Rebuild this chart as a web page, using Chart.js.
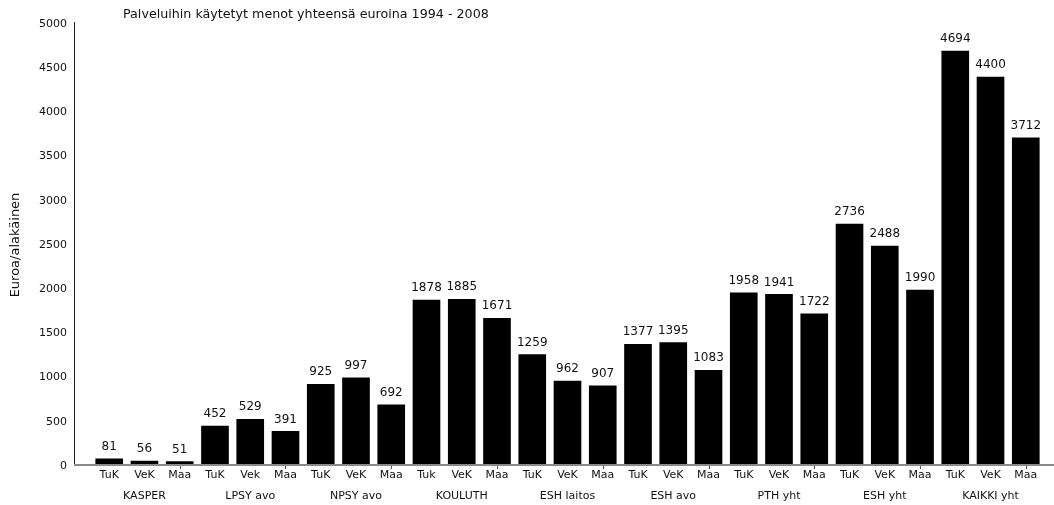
<!DOCTYPE html>
<html>
<head>
<meta charset="utf-8">
<script src="https://cdn.jsdelivr.net/npm/chart.js@4.4.0/dist/chart.umd.min.js"></script>
<style>
  html, body { margin: 0; padding: 0; background: #ffffff; }
  #wrap { width: 1054px; height: 505px; position: relative; }
</style>
</head>
<body>
<div id="wrap"><canvas id="c"></canvas></div>
<script>
// Service groups, three bars each
const groups = ['KASPER', 'LPSY avo', 'NPSY avo', 'KOULUTH', 'ESH laitos', 'ESH avo', 'PTH yht', 'ESH yht', 'KAIKKI yht'];
// Bar labels under the axis
const subLabels = [
  'TuK', 'VeK', 'Maa',
  'TuK', 'Vek', 'Maa',
  'TuK', 'VeK', 'Maa',
  'Tuk', 'VeK', 'Maa',
  'TuK', 'VeK', 'Maa',
  'TuK', 'VeK', 'Maa',
  'TuK', 'VeK', 'Maa',
  'TuK', 'VeK', 'Maa',
  'TuK', 'VeK', 'Maa'
];
// Euros per minor
const spending = [
  81, 56, 51,
  452, 529, 391,
  925, 997, 692,
  1878, 1885, 1671,
  1259, 962, 907,
  1377, 1395, 1083,
  1958, 1941, 1722,
  2736, 2488, 1990,
  4694, 4400, 3712
];
const yMin = 0;
const yMax = 5000;
const yStep = 500;
const chartTitle = 'Palveluihin käytetyt menot yhteensä euroina 1994 - 2008';
const yTitle = 'Euroa/alakäinen';

const FONT = 'DejaVu Sans';

// Axis lines, small marks, group names, bar values and the heading
const decorations = {
  id: 'decorations',
  afterDatasetsDraw(chart) {
    const { ctx, chartArea, scales } = chart;
    const x = scales.x;
    const yAxisX = 74;
    ctx.save();

    // vertical axis line
    ctx.strokeStyle = '#1a1a1a';
    ctx.lineWidth = 1;
    ctx.beginPath();
    ctx.moveTo(yAxisX + 0.5, 22);
    ctx.lineTo(yAxisX + 0.5, chartArea.bottom);
    ctx.stroke();

    // horizontal axis line
    ctx.strokeStyle = '#8a8a8a';
    ctx.lineWidth = 2;
    ctx.beginPath();
    ctx.moveTo(yAxisX, chartArea.bottom - 1);
    ctx.lineTo(chart.width, chartArea.bottom - 1);
    ctx.stroke();

    // small marks under the last bar of each group
    ctx.lineWidth = 1;
    ctx.strokeStyle = '#555';
    subLabels.forEach((_, i) => {
      if (i % 3 !== 2) return;
      const px = Math.round(x.getPixelForValue(i)) + 0.5;
      ctx.beginPath();
      ctx.moveTo(px, chartArea.bottom);
      ctx.lineTo(px, chartArea.bottom + 3);
      ctx.stroke();
    });

    // bar values
    ctx.fillStyle = '#111';
    ctx.textAlign = 'center';
    ctx.textBaseline = 'middle';
    ctx.font = '12px "' + FONT + '"';
    const meta = chart.getDatasetMeta(0);
    meta.data.forEach((bar, i) => {
      ctx.fillText(String(spending[i]), bar.x, bar.y - 12);
    });

    // group names under the middle bar of each group
    ctx.font = '11px "' + FONT + '"';
    groups.forEach((g, gi) => {
      const px = x.getPixelForValue(gi * 3 + 1);
      ctx.fillText(g, px, 496);
    });

    // heading
    ctx.font = '12.7px "' + FONT + '"';
    ctx.textAlign = 'left';
    ctx.fillText(chartTitle, 123, 15);
    ctx.restore();
  }
};

new Chart(document.getElementById('c'), {
  type: 'bar',
  data: {
    labels: subLabels,
    datasets: [{
      data: spending,
      backgroundColor: '#000000',
      borderWidth: 0,
      barThickness: 27
    }]
  },
  options: {
    responsive: true,
    maintainAspectRatio: false,
    animation: false,
    layout: { padding: { top: 24, right: 10.6, bottom: 0, left: 0 } },
    plugins: {
      legend: { display: false },
      title: { display: false },
      tooltip: { enabled: false }
    },
    scales: {
      x: {
        grid: { display: false, drawTicks: false },
        border: { display: false },
        ticks: {
          color: '#111',
          font: { family: FONT, size: 11 },
          padding: 2.5,
          maxRotation: 0,
          autoSkip: false
        },
        afterFit(scale) { scale.height = 39; }
      },
      y: {
        min: yMin,
        max: yMax,
        grid: { display: false, drawTicks: false },
        border: { display: false },
        ticks: {
          stepSize: yStep,
          color: '#111',
          font: { family: FONT, size: 11 },
          padding: 24.6,
          callback: (v) => String(v)
        },
        title: {
          display: true,
          text: yTitle,
          color: '#111',
          font: { family: FONT, size: 13 },
          padding: { top: 7.7, bottom: 0 }
        },
        afterFit(scale) {
          scale.width = 91.6;
          // keep the plot height fixed by the layout padding alone
          scale.paddingTop = 0;
          scale.paddingBottom = 0;
        }
      }
    }
  },
  plugins: [decorations]
});
</script>
</body>
</html>
